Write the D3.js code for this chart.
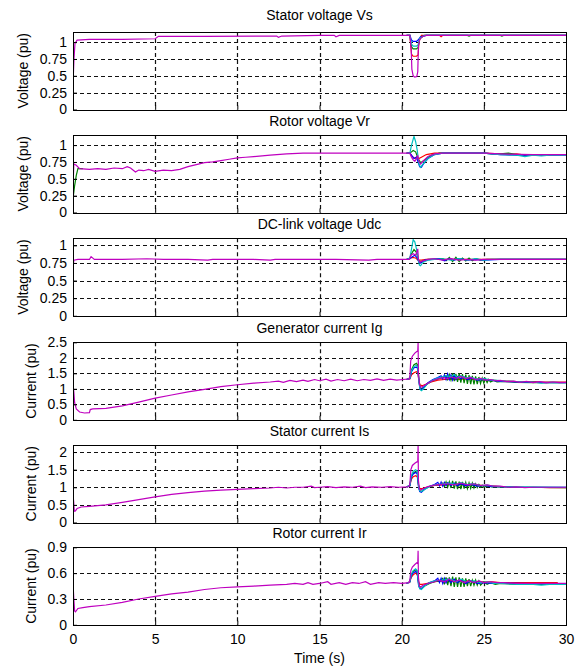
<!DOCTYPE html>
<html>
<head>
<meta charset="utf-8">
<script src="https://cdn.jsdelivr.net/npm/d3@7"></script>
<style>
  body { margin: 0; background: #fff; }
  text { font-family: Arial, "Liberation Sans", sans-serif; fill: #000; }
</style>
</head>
<body>
<div id="chart"></div>
<script>
// ---- data ----
const timeTicks = [0, 5, 10, 15, 20, 25, 30];
const panelTitles = ['Stator voltage Vs', 'Rotor voltage Vr', 'DC-link voltage Udc',
  'Generator current Ig', 'Stator current Is', 'Rotor current Ir'];
const yLabels = ['Voltage (pu)', 'Voltage (pu)', 'Voltage (pu)', 'Current (pu)', 'Current (pu)', 'Current (pu)'];
const yMax = [1.15, 1.15, 1.1, 2.5, 2.2, 0.9];
const yTicks = [
  [0, 0.25, 0.5, 0.75, 1],
  [0, 0.25, 0.5, 0.75, 1],
  [0, 0.25, 0.5, 0.75, 1],
  [0, 0.5, 1, 1.5, 2, 2.5],
  [0, 0.5, 1, 1.5, 2],
  [0, 0.3, 0.6, 0.9]
];
const seriesColors = ['#ff0000', '#008000', '#0000ff', '#00bfbf', '#bf00bf'];

// Stator voltage Vs
const vsR = [[20.3,1.1],[20.5,1.1],[20.6,0.82],[20.7,0.79],[20.9,0.79],[21,0.81],[21.05,1.0],[21.2,1.1],[22.3,1.1],[22.4,1.08],[22.5,1.1],[30,1.1]];
const vsG = [[20.3,1.1],[20.5,1.1],[20.6,0.93],[20.7,0.9],[20.9,0.9],[21,0.92],[21.1,1.05],[21.4,1.1],[24,1.1],[24.1,1.09],[24.2,1.1],[26,1.1],[26.1,1.09],[26.2,1.1],[30,1.1]];
const vsB = [[20.3,1.1],[20.5,1.1],[20.6,1.03],[20.7,1.01],[20.9,1.01],[21,1.03],[21.15,1.08],[21.5,1.1],[30,1.1]];
const vsC = [[20.3,1.1],[20.5,1.1],[20.6,0.97],[20.7,0.94],[20.9,0.94],[21,0.96],[21.1,1.06],[21.4,1.1],[30,1.1]];
const vsM = [[0,0],[0.02,0.5],[0.06,0.75],[0.12,0.98],[0.25,1.03],[1,1.04],[3,1.04],[5,1.05],[5.2,1.085],[8,1.085],[12.4,1.09],[12.5,1.07],[12.7,1.09],[15,1.1],[15.9,1.1],[16,1.08],[16.2,1.1],[20.5,1.1],[20.58,0.9],[20.62,0.6],[20.7,0.5],[20.8,0.48],[20.92,0.49],[20.98,0.56],[21.02,0.95],[21.1,1.04],[21.25,1.08],[21.5,1.1],[25,1.1],[30,1.1]];

// Rotor voltage Vr
const vrR = [[20.3,0.88],[20.5,0.88],[20.6,0.84],[20.8,0.8],[20.95,0.83],[21.05,0.8],[21.2,0.82],[21.5,0.86],[22,0.88],[25,0.88],[26,0.87],[26.5,0.86],[27,0.87],[27.5,0.85],[28,0.86],[28.5,0.85],[29,0.86],[30,0.86]];
const vrG = [[0,0.21],[0.1,0.4],[0.2,0.55],[0.3,0.65],[0.6,0.65],null,[20.3,0.88],[20.5,0.88],[20.6,0.9],[20.7,0.92],[20.85,0.9],[21,0.8],[21.15,0.74],[21.4,0.78],[21.8,0.85],[22.3,0.88],[25,0.88],[25.5,0.87],[26,0.87],[26.5,0.88],[27,0.86],[28,0.86],[30,0.86]];
const vrB = [[20.3,0.88],[20.5,0.88],[20.6,0.85],[20.75,0.8],[20.9,0.82],[21,0.75],[21.1,0.68],[21.2,0.67],[21.35,0.73],[21.6,0.8],[22,0.86],[22.5,0.88],[25,0.88],[26,0.86],[27,0.85],[28,0.85],[30,0.85]];
const vrC = [[20.3,0.88],[20.5,0.88],[20.6,1.0],[20.75,1.13],[20.85,1.05],[20.95,0.92],[21.05,0.72],[21.15,0.67],[21.3,0.72],[21.6,0.8],[22,0.86],[22.5,0.88],[25,0.88],[26,0.86],[27,0.85],[27.5,0.83],[28,0.85],[28.5,0.84],[29,0.85],[30,0.85]];
const vrM = [[0,0],[0.02,0.5],[0.05,0.72],[0.2,0.7],[0.4,0.65],[1,0.64],[1.5,0.65],[2,0.64],[2.5,0.66],[3,0.65],[3.3,0.68],[3.5,0.66],[3.8,0.6],[4,0.63],[4.3,0.62],[4.6,0.64],[5,0.61],[5.5,0.63],[6,0.62],[6.5,0.64],[7,0.68],[7.5,0.71],[8,0.74],[8.5,0.75],[9,0.77],[9.5,0.79],[10,0.81],[10.5,0.82],[11,0.83],[12,0.85],[13,0.87],[14,0.88],[20.45,0.88],[20.5,0.88],[20.6,0.82],[20.7,0.78],[20.8,0.76],[20.9,0.8],[20.98,0.84],[21.05,0.76],[21.15,0.72],[21.3,0.76],[21.6,0.83],[22,0.87],[22.5,0.88],[25,0.88],[26,0.87],[28,0.86],[30,0.86]];

// DC-link voltage Udc
const udcR = [[20.3,0.8],[20.5,0.81],[20.65,0.83],[20.85,0.82],[21,0.79],[21.2,0.79],[21.5,0.8],[22.5,0.8],[24,0.8],[26,0.8],[30,0.8]];
const udcG = [[20.3,0.8],[20.5,0.82],[20.6,0.88],[20.75,0.94],[20.9,0.9],[21,0.8],[21.1,0.76],[21.3,0.78],[21.6,0.8],[22,0.8],[22.5,0.81],[22.7,0.78],[22.9,0.83],[23.1,0.77],[23.3,0.83],[23.5,0.77],[23.7,0.82],[23.9,0.78],[24.1,0.82],[24.3,0.78],[24.5,0.81],[24.8,0.79],[25.2,0.8],[26,0.8],[30,0.8]];
const udcB = [[20.3,0.8],[20.5,0.81],[20.65,0.84],[20.8,0.86],[20.95,0.82],[21.05,0.76],[21.15,0.75],[21.4,0.79],[21.8,0.8],[22.3,0.81],[22.6,0.78],[22.9,0.81],[23.2,0.79],[23.5,0.81],[24,0.79],[24.5,0.8],[25,0.79],[26,0.8],[30,0.8]];
const udcC = [[20.3,0.8],[20.5,0.82],[20.6,0.95],[20.7,1.08],[20.8,1.05],[20.9,0.95],[21,0.82],[21.08,0.72],[21.15,0.71],[21.3,0.76],[21.6,0.79],[22,0.8],[22.5,0.81],[23,0.79],[23.5,0.81],[24,0.79],[24.5,0.81],[25,0.79],[25.5,0.8],[26,0.8],[30,0.8]];
const udcM = [[0,0],[0.01,0.69],[0.05,0.79],[0.3,0.8],[1,0.8],[1.1,0.84],[1.3,0.8],[3,0.8],[4.5,0.81],[5.5,0.8],[7,0.8],[8.2,0.79],[8.5,0.8],[11,0.8],[12,0.79],[12.3,0.8],[14,0.8],[16,0.8],[18,0.79],[18.5,0.8],[20.45,0.8],[20.5,0.82],[20.55,0.86],[20.7,0.88],[20.85,0.86],[20.98,0.95],[21.02,0.8],[21.1,0.76],[21.3,0.78],[21.6,0.8],[22,0.81],[22.5,0.79],[23,0.81],[23.5,0.79],[24,0.8],[24.5,0.79],[25,0.8],[26,0.8],[28,0.8],[30,0.8]];

// Generator current Ig
const igR = [[20.3,1.3],[20.5,1.32],[20.6,1.45],[20.75,1.52],[20.9,1.55],[20.98,1.52],[21.05,1.25],[21.12,1.12],[21.25,1.1],[21.5,1.15],[21.8,1.22],[22.2,1.28],[22.6,1.3],[23,1.32],[23.5,1.3],[24,1.33],[24.5,1.3],[25,1.29],[25.5,1.28],[26,1.26],[26.5,1.25],[27,1.23],[27.5,1.22],[28,1.23],[28.5,1.22],[29,1.22],[30,1.22]];
const igG = [[20.3,1.3],[20.5,1.35],[20.6,1.62],[20.75,1.78],[20.9,1.82],[20.98,1.76],[21.05,1.3],[21.12,1.05],[21.2,1.0],[21.35,1.05],[21.6,1.18],[21.9,1.27],[22.2,1.32],[22.5,1.36],[22.7,1.42],[22.8,1.3],[22.9,1.46],[23,1.28],[23.1,1.5],[23.2,1.25],[23.3,1.48],[23.4,1.22],[23.5,1.5],[23.6,1.2],[23.7,1.47],[23.8,1.18],[23.9,1.46],[24,1.16],[24.1,1.44],[24.2,1.15],[24.3,1.42],[24.4,1.14],[24.5,1.4],[24.6,1.15],[24.7,1.38],[24.8,1.17],[24.9,1.35],[25,1.18],[25.1,1.32],[25.2,1.2],[25.3,1.3],[25.4,1.22],[25.6,1.27],[25.8,1.22],[26.2,1.24],[27,1.21],[28,1.2],[30,1.2]];
const igB = [[20.3,1.3],[20.5,1.33],[20.6,1.55],[20.75,1.68],[20.9,1.7],[20.98,1.65],[21.05,1.25],[21.12,1.0],[21.2,0.97],[21.35,1.05],[21.6,1.2],[21.9,1.3],[22.2,1.36],[22.4,1.42],[22.5,1.32],[22.6,1.45],[22.7,1.3],[22.8,1.48],[22.9,1.3],[23,1.45],[23.1,1.28],[23.2,1.44],[23.3,1.3],[23.4,1.4],[23.6,1.32],[23.8,1.38],[24,1.3],[24.3,1.34],[24.6,1.28],[25,1.3],[25.5,1.27],[26,1.24],[27,1.22],[28,1.21],[30,1.2]];
const igC = [[20.3,1.3],[20.5,1.34],[20.6,1.58],[20.75,1.72],[20.9,1.75],[20.98,1.7],[21.05,1.2],[21.12,0.98],[21.2,0.94],[21.3,0.98],[21.5,1.12],[21.8,1.25],[22.1,1.33],[22.4,1.38],[22.7,1.42],[23,1.4],[23.2,1.46],[23.4,1.36],[23.6,1.42],[23.9,1.35],[24.2,1.38],[24.5,1.32],[25,1.33],[25.4,1.29],[25.8,1.27],[26.3,1.25],[27,1.23],[28,1.22],[28.5,1.18],[29,1.21],[30,1.2]];
const igM = [[0,1.15],[0.05,0.9],[0.1,0.55],[0.2,0.35],[0.4,0.25],[0.7,0.22],[1,0.23],[1.05,0.33],[1.2,0.35],[2,0.37],[3,0.45],[4,0.57],[5,0.7],[6,0.8],[7,0.9],[8,0.98],[9,1.07],[10,1.13],[11,1.18],[12,1.22],[12.5,1.25],[12.8,1.21],[13.2,1.27],[13.6,1.23],[14,1.28],[14.3,1.24],[14.7,1.3],[15,1.26],[15.4,1.31],[15.7,1.25],[16.1,1.3],[16.5,1.26],[16.9,1.31],[17.3,1.26],[17.7,1.3],[18.1,1.27],[18.5,1.32],[18.9,1.27],[19.3,1.31],[19.7,1.28],[20.1,1.3],[20.45,1.32],[20.5,1.4],[20.55,1.9],[20.65,2.05],[20.8,2.15],[20.92,2.2],[20.98,2.22],[21,2.5],[21.02,1.5],[21.08,1.15],[21.15,1.05],[21.3,1.08],[21.6,1.18],[21.9,1.27],[22.2,1.32],[22.5,1.36],[22.8,1.33],[23,1.38],[23.3,1.34],[23.6,1.4],[23.9,1.33],[24.2,1.37],[24.5,1.3],[24.8,1.34],[25.1,1.28],[25.4,1.3],[25.7,1.26],[26,1.27],[26.4,1.23],[26.8,1.25],[27.2,1.21],[27.6,1.24],[28,1.2],[28.4,1.23],[28.8,1.19],[29.2,1.22],[29.6,1.2],[30,1.21]];

// Stator current Is
const isR = [[20.3,1.01],[20.5,1.04],[20.58,1.22],[20.7,1.3],[20.85,1.33],[20.95,1.3],[21.03,1.05],[21.1,0.97],[21.25,0.96],[21.5,1.0],[22,1.05],[22.5,1.07],[23,1.08],[23.5,1.08],[24,1.07],[24.5,1.07],[25,1.05],[25.5,1.04],[26,1.02],[26.5,1.01],[27,1.0],[28,1.0],[29,0.99],[30,0.99]];
const isG = [[20.3,1.01],[20.5,1.05],[20.58,1.3],[20.7,1.4],[20.85,1.45],[20.95,1.42],[21.03,1.05],[21.1,0.9],[21.2,0.88],[21.4,0.95],[21.7,1.02],[22,1.06],[22.3,1.08],[22.5,1.12],[22.6,1.02],[22.7,1.15],[22.8,1.0],[22.9,1.16],[23,0.98],[23.1,1.18],[23.2,0.96],[23.3,1.17],[23.4,0.95],[23.5,1.16],[23.6,0.95],[23.7,1.15],[23.8,0.96],[23.9,1.14],[24,0.96],[24.1,1.13],[24.2,0.97],[24.3,1.12],[24.4,0.98],[24.5,1.1],[24.6,0.99],[24.7,1.08],[24.8,1.0],[24.9,1.06],[25,1.0],[25.2,1.04],[25.5,1.01],[26,1.02],[27,1.0],[30,0.99]];
const isB = [[20.3,1.01],[20.5,1.04],[20.58,1.28],[20.7,1.38],[20.85,1.42],[20.95,1.38],[21.03,1.0],[21.1,0.88],[21.2,0.86],[21.4,0.95],[21.7,1.03],[22,1.08],[22.2,1.14],[22.3,1.04],[22.4,1.15],[22.5,1.03],[22.6,1.14],[22.7,1.05],[22.8,1.13],[23,1.05],[23.2,1.12],[23.4,1.04],[23.6,1.1],[23.9,1.04],[24.2,1.08],[24.6,1.03],[25,1.05],[25.5,1.02],[26,1.02],[27,1.0],[30,1.0]];
const isC = [[20.3,1.01],[20.5,1.05],[20.58,1.32],[20.7,1.45],[20.85,1.5],[20.95,1.46],[21.03,1.02],[21.1,0.9],[21.2,0.88],[21.4,0.94],[21.7,1.02],[22,1.07],[22.5,1.1],[23,1.12],[23.3,1.08],[23.6,1.13],[24,1.08],[24.4,1.1],[24.8,1.05],[25.2,1.06],[25.6,1.03],[26,1.02],[27,1.01],[30,1.0]];
const isM = [[0,0.78],[0.04,0.6],[0.08,0.32],[0.15,0.33],[0.25,0.4],[0.5,0.44],[1,0.46],[2,0.5],[3,0.57],[4,0.65],[5,0.73],[6,0.8],[7,0.85],[8,0.89],[9,0.92],[10,0.94],[11,0.96],[12,0.98],[12.5,1.0],[13,0.98],[13.5,1.0],[14,1.0],[14.5,1.03],[14.7,0.99],[15,1.0],[15.5,1.02],[16,0.99],[16.5,1.01],[17,1.0],[17.5,1.03],[17.8,0.99],[18.2,1.01],[18.8,1.0],[19.3,1.02],[19.8,1.0],[20.3,1.01],[20.45,1.02],[20.5,1.1],[20.56,1.5],[20.65,1.62],[20.8,1.68],[20.92,1.72],[20.98,1.72],[21,2.2],[21.02,1.2],[21.08,0.95],[21.15,0.92],[21.3,0.96],[21.6,1.02],[22,1.06],[22.4,1.08],[22.8,1.1],[23.2,1.07],[23.6,1.12],[24,1.07],[24.4,1.1],[24.8,1.05],[25.2,1.07],[25.6,1.03],[26,1.03],[26.5,1.0],[27,1.01],[27.5,0.99],[28,1.0],[29,1.0],[30,1.0]];

// Rotor current Ir
const irR = [[20.3,0.48],[20.5,0.5],[20.58,0.55],[20.7,0.58],[20.85,0.6],[20.95,0.58],[21.03,0.5],[21.1,0.47],[21.25,0.47],[21.5,0.48],[22,0.5],[22.5,0.51],[23,0.51],[23.5,0.51],[24,0.51],[24.5,0.5],[25,0.5],[25.5,0.5],[26,0.49],[26.5,0.49],[27,0.49],[28,0.49],[29,0.49],[29.5,0.49]];
const irG = [[20.3,0.48],[20.5,0.5],[20.58,0.58],[20.7,0.62],[20.85,0.64],[20.95,0.62],[21.03,0.48],[21.1,0.43],[21.2,0.42],[21.4,0.45],[21.7,0.48],[22,0.5],[22.3,0.51],[22.5,0.54],[22.6,0.47],[22.7,0.55],[22.8,0.46],[22.9,0.55],[23,0.45],[23.1,0.56],[23.2,0.44],[23.3,0.55],[23.4,0.44],[23.5,0.55],[23.6,0.44],[23.7,0.54],[23.8,0.44],[23.9,0.54],[24,0.45],[24.1,0.53],[24.2,0.45],[24.3,0.52],[24.4,0.46],[24.5,0.52],[24.6,0.46],[24.7,0.51],[24.8,0.46],[25,0.5],[25.2,0.47],[25.4,0.49],[25.7,0.47],[26,0.48],[27,0.47],[28,0.47],[30,0.47]];
const irB = [[20.3,0.48],[20.5,0.5],[20.58,0.57],[20.7,0.6],[20.85,0.62],[20.95,0.6],[21.03,0.46],[21.1,0.42],[21.2,0.42],[21.4,0.46],[21.7,0.49],[22,0.51],[22.2,0.54],[22.3,0.49],[22.4,0.54],[22.5,0.48],[22.6,0.54],[22.7,0.49],[22.8,0.53],[23,0.49],[23.2,0.53],[23.4,0.49],[23.6,0.52],[23.9,0.48],[24.2,0.51],[24.6,0.48],[25,0.49],[25.5,0.48],[26,0.48],[27,0.48],[30,0.47]];
const irC = [[20.3,0.48],[20.5,0.5],[20.58,0.58],[20.7,0.63],[20.85,0.65],[20.95,0.63],[21.03,0.46],[21.1,0.42],[21.2,0.41],[21.4,0.45],[21.7,0.49],[22,0.51],[22.5,0.52],[23,0.53],[23.3,0.5],[23.6,0.53],[24,0.5],[24.4,0.51],[24.8,0.49],[25.2,0.5],[25.6,0.48],[26,0.48],[27,0.47],[28,0.47],[28.5,0.46],[29,0.47],[30,0.47]];
const irM = [[0,0],[0.01,0.45],[0.05,0.3],[0.1,0.16],[0.15,0.15],[0.3,0.19],[0.6,0.2],[1,0.21],[2,0.23],[3,0.26],[4,0.3],[5,0.33],[6,0.36],[7,0.38],[8,0.41],[9,0.43],[10,0.44],[11,0.45],[12,0.46],[13,0.47],[13.5,0.48],[14,0.47],[14.3,0.49],[14.6,0.47],[15,0.48],[15.5,0.5],[15.7,0.47],[16.2,0.49],[16.6,0.47],[17,0.49],[17.4,0.48],[17.8,0.5],[18.1,0.47],[18.6,0.49],[19,0.48],[19.5,0.49],[20,0.48],[20.45,0.49],[20.5,0.52],[20.56,0.63],[20.65,0.67],[20.8,0.7],[20.92,0.72],[20.98,0.71],[21,0.86],[21.02,0.55],[21.08,0.45],[21.15,0.44],[21.3,0.46],[21.6,0.48],[22,0.5],[22.3,0.52],[22.6,0.5],[22.9,0.53],[23.2,0.5],[23.5,0.52],[23.8,0.49],[24.1,0.51],[24.4,0.49],[24.7,0.51],[25,0.49],[25.4,0.5],[25.8,0.49],[26.2,0.49],[27,0.48],[28,0.48],[29,0.48],[30,0.48]];

// series per panel, drawn in order red, green, blue, cyan, magenta
const panelSeries = [
  [vsR, vsG, vsB, vsC, vsM],
  [vrR, vrG, vrB, vrC, vrM],
  [udcR, udcG, udcB, udcC, udcM],
  [igR, igG, igB, igC, igM],
  [isR, isG, isB, isC, isM],
  [irR, irG, irB, irC, irM]
];

// ---- layout ----
const width = 579;
const height = 667;
const plotLeft = 73;
const plotRight = 566;
const panelTops = [32, 135, 238.3, 342.3, 445, 547.3];
const titleGap = [12, 9, 9, 9, 9, 9];
const panelHeight = 77.5;

const svg = d3.select('#chart')
  .append('svg')
  .attr('width', width)
  .attr('height', height);

const x = d3.scaleLinear().domain([0, 30]).range([plotLeft, plotRight]);

panelTitles.forEach((title, i) => {
  const top = panelTops[i];
  const bottom = top + panelHeight;
  const y = d3.scaleLinear().domain([0, yMax[i]]).range([bottom, top]);
  const g = svg.append('g');

  // clip for the traces
  svg.append('clipPath').attr('id', `clip-${i}`)
    .append('rect')
    .attr('x', plotLeft).attr('y', top)
    .attr('width', plotRight - plotLeft).attr('height', panelHeight);

  // dashed grid
  g.append('g')
    .selectAll('line')
    .data(timeTicks.slice(1, -1))
    .join('line')
    .attr('x1', d => Math.round(x(d)) + 0.5)
    .attr('x2', d => Math.round(x(d)) + 0.5)
    .attr('y1', top)
    .attr('y2', bottom)
    .attr('stroke', '#111')
    .attr('stroke-width', 1.2)
    .attr('stroke-dasharray', '4,3');

  g.append('g')
    .selectAll('line')
    .data(yTicks[i].filter(d => d > 0 && d < yMax[i]))
    .join('line')
    .attr('x1', plotLeft)
    .attr('x2', plotRight)
    .attr('y1', d => Math.round(y(d)) + 0.5)
    .attr('y2', d => Math.round(y(d)) + 0.5)
    .attr('stroke', '#111')
    .attr('stroke-dasharray', '4,3');

  // traces
  const line = d3.line()
    .defined(d => d != null)
    .x(d => x(d[0]))
    .y(d => y(d[1]));

  g.append('g')
    .attr('clip-path', `url(#clip-${i})`)
    .selectAll('path')
    .data(panelSeries[i])
    .join('path')
    .attr('d', line)
    .attr('fill', 'none')
    .attr('stroke', (d, k) => seriesColors[k])
    .attr('stroke-width', 1.2);

  // y axis (inward ticks like MATLAB)
  const yAxis = g.append('g')
    .attr('transform', `translate(${plotLeft},0)`)
    .call(d3.axisLeft(y)
      .tickValues(yTicks[i])
      .tickFormat(d => String(d))
      .tickSizeInner(-4)
      .tickSizeOuter(0)
      .tickPadding(6));
  yAxis.select('.domain').remove();
  yAxis.selectAll('text').attr('font-size', 14).attr('font-family', 'Arial, "Liberation Sans", sans-serif');

  // x axis
  const xAxis = g.append('g')
    .attr('transform', `translate(0,${bottom})`)
    .call(d3.axisBottom(x)
      .tickValues(timeTicks)
      .tickFormat(d => String(d))
      .tickSizeInner(-4)
      .tickSizeOuter(0)
      .tickPadding(9));
  xAxis.select('.domain').remove();
  xAxis.selectAll('text')
    .attr('font-size', 14)
    .attr('font-family', 'Arial, "Liberation Sans", sans-serif')
    .attr('display', i === panelTitles.length - 1 ? null : 'none');

  // box
  g.append('rect')
    .attr('x', plotLeft + 0.5)
    .attr('y', Math.round(top) + 0.5)
    .attr('width', plotRight - plotLeft)
    .attr('height', Math.round(bottom) - Math.round(top))
    .attr('fill', 'none')
    .attr('stroke', '#000');

  // title
  g.append('text')
    .attr('x', (plotLeft + plotRight) / 2)
    .attr('y', top - titleGap[i])
    .attr('text-anchor', 'middle')
    .attr('font-size', 14)
    .text(title);

  // y label placed left of the widest tick label
  let maxW = 0;
  yAxis.selectAll('text').each(function () {
    maxW = Math.max(maxW, this.getComputedTextLength());
  });
  const labelX = plotLeft - 6 - maxW - 12;
  g.append('text')
    .attr('transform', `translate(${labelX},${(top + bottom) / 2}) rotate(-90)`)
    .attr('text-anchor', 'middle')
    .attr('font-size', 14)
    .text(yLabels[i]);
});

// x label
svg.append('text')
  .attr('x', (plotLeft + plotRight) / 2)
  .attr('y', 663)
  .attr('text-anchor', 'middle')
  .attr('font-size', 14)
  .text('Time (s)');
</script>
</body>
</html>
